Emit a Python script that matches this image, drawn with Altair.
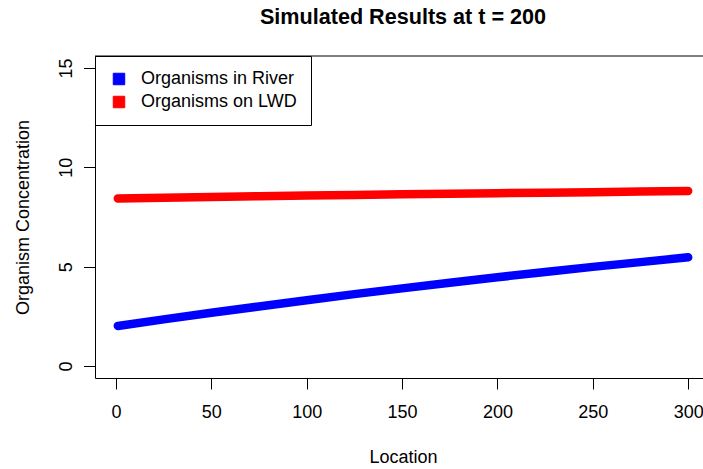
import altair as alt
import pandas as pd

# ---- data ----
locations = [1, 25, 50, 75, 100, 125, 150, 175, 200, 225, 250, 275, 300]
river = [2.02, 2.35, 2.68, 3.00, 3.31, 3.62, 3.91, 4.19, 4.47, 4.73, 4.99, 5.23, 5.47]
lwd = [8.43, 8.47, 8.51, 8.55, 8.58, 8.61, 8.64, 8.67, 8.70, 8.72, 8.75, 8.78, 8.81]
series = ["Organisms in River", "Organisms on LWD"]
colors = ["#0000FF", "#FF0000"]
x_ticks = [0, 50, 100, 150, 200, 250, 300]
y_ticks = [0, 5, 10, 15]

rows = []
for name, vals in zip(series, [river, lwd]):
    for loc, v in zip(locations, vals):
        rows.append({"Location": loc, "Concentration": v, "Series": name, "Line": name})
df = pd.DataFrame(rows)

FONT = "Liberation Sans"
W, H = 608, 322

x_enc = alt.X(
    "Location:Q",
    scale=alt.Scale(domain=[-10.96, 307.77], nice=False, zero=False),
    axis=alt.Axis(
        values=x_ticks, title="Location", grid=False,
        domainColor="black", domainWidth=1, tickColor="black", tickWidth=1, tickSize=11,
        labelFont=FONT, labelFontSize=18, labelColor="black", labelPadding=14,
        labelFlush=False, labelOverlap=False,
        titleFont=FONT, titleFontSize=18, titleFontWeight="normal", titleColor="black",
        titleX=308, titleY=84.5, titleAlign="center", titleBaseline="alphabetic",
    ),
)
y_enc = alt.Y(
    "Concentration:Q",
    scale=alt.Scale(domain=[-0.6, 15.6], nice=False, zero=False),
    axis=alt.Axis(
        values=y_ticks, title="Organism Concentration", grid=False,
        domainColor="black", domainWidth=1, tickColor="black", tickWidth=1, tickSize=11.5,
        labelFont=FONT, labelFontSize=18, labelColor="black", labelPadding=12.5,
        labelAngle=270, labelAlign="center", labelBaseline="alphabetic",
        labelFlush=False, labelOverlap=False,
        titleFont=FONT, titleFontSize=18, titleFontWeight="normal", titleColor="black",
        titleAngle=270, titleX=-66.7, titleY=161, titleAlign="center",
        titleBaseline="alphabetic",
    ),
)

# filled squares hidden under the thick lines; they carry the legend
squares = alt.Chart(df).mark_square(
    filled=True, size=16, opacity=1, stroke="black", strokeWidth=1
).encode(
    x=x_enc, y=y_enc,
    color=alt.Color(
        "Series:N",
        scale=alt.Scale(domain=series, range=colors),
        legend=alt.Legend(
            orient="top-left", offset=0, title=None,
            symbolType="square", symbolSize=132, symbolStrokeColor="black",
            symbolStrokeWidth=1, symbolOpacity=1, symbolOffset=1,
            labelFont=FONT, labelFontSize=18, labelColor="black", labelOffset=13,
            padding=14, rowPadding=5, fillColor="white", strokeColor="black",
        ),
    ),
)

lines = alt.Chart(df).mark_line(
    strokeWidth=8.5, strokeCap="round", strokeJoin="round"
).encode(
    x=x_enc, y=y_enc,
    stroke=alt.Stroke("Line:N", scale=alt.Scale(domain=series, range=colors), legend=None),
)

top_border = alt.Chart(pd.DataFrame({"a": [0]})).mark_rule(
    color="black", strokeWidth=1
).encode(x=alt.value(0), x2=alt.value(W), y=alt.value(0))

chart = alt.layer(squares, lines, top_border).properties(
    width=W, height=H,
    title=alt.TitleParams(
        "Simulated Results at t = 200", font=FONT, fontSize=21.6, fontWeight="bold",
        color="black", anchor="middle", dx=4, baseline="alphabetic", offset=10,
    ),
    autosize=alt.AutoSizeParams(type="none"),
    padding={"left": 95, "top": 56, "right": 0, "bottom": 91},
    background="white",
).configure_view(stroke=None)

chart.save("out.html", embed_options={"renderer": "svg", "actions": False})
